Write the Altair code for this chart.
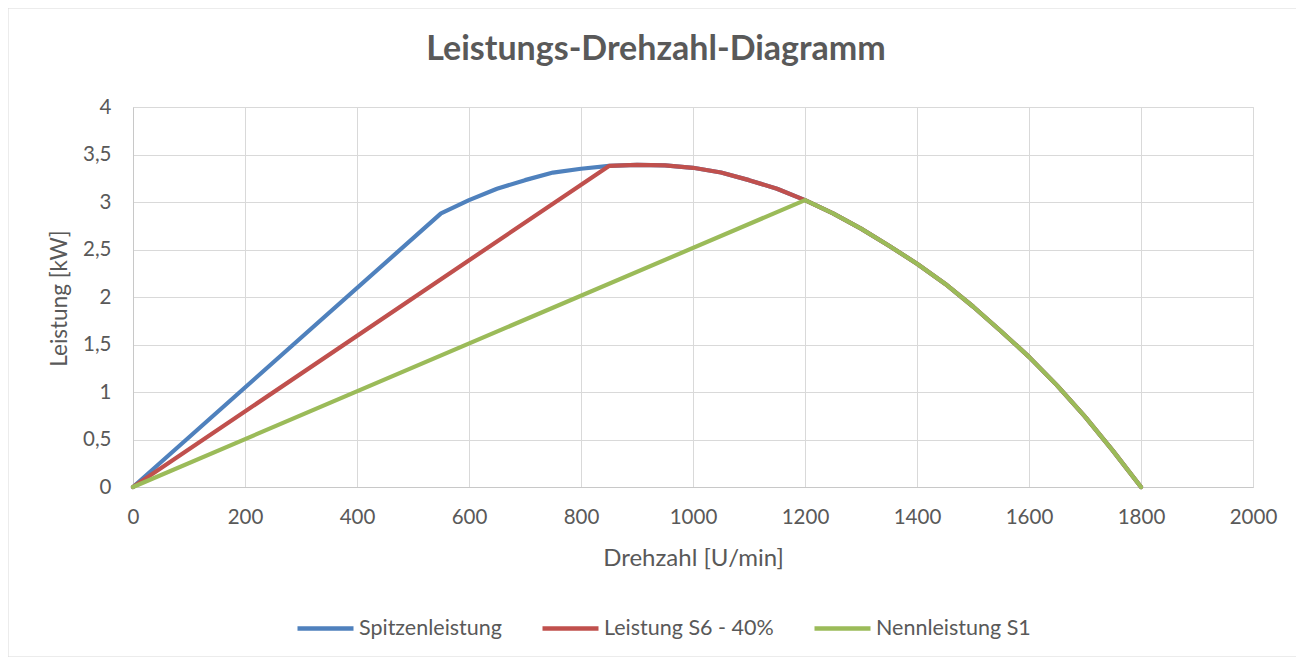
import altair as alt
import pandas as pd

# --- data ---
chart_title = "Leistungs-Drehzahl-Diagramm"
series_names = ["Spitzenleistung", "Leistung S6 - 40%", "Nennleistung S1"]
series_colors = ["#4f81bd", "#c0504d", "#9bbb59"]

rpm_spitzen = [0, 550, 600, 650, 700, 750, 800, 850, 900, 950, 1000, 1050, 1100, 1150,
               1200, 1250, 1300, 1350, 1400, 1450, 1500, 1550, 1600, 1650, 1700, 1750, 1800]
kw_spitzen = [0, 2.88, 3.02, 3.14, 3.23, 3.31, 3.35, 3.38, 3.39, 3.385, 3.36, 3.31, 3.23, 3.14,
              3.02, 2.88, 2.72, 2.54, 2.35, 2.14, 1.90, 1.64, 1.37, 1.07, 0.74, 0.38, 0]

rpm_s6 = [0, 850, 900, 950, 1000, 1050, 1100, 1150,
          1200, 1250, 1300, 1350, 1400, 1450, 1500, 1550, 1600, 1650, 1700, 1750, 1800]
kw_s6 = [0, 3.38, 3.39, 3.385, 3.36, 3.31, 3.23, 3.14,
         3.02, 2.88, 2.72, 2.54, 2.35, 2.14, 1.90, 1.64, 1.37, 1.07, 0.74, 0.38, 0]

rpm_s1 = [0, 1200, 1250, 1300, 1350, 1400, 1450, 1500, 1550, 1600, 1650, 1700, 1750, 1800]
kw_s1 = [0, 3.02, 2.88, 2.72, 2.54, 2.35, 2.14, 1.90, 1.64, 1.37, 1.07, 0.74, 0.38, 0]

x_ticks = [0, 200, 400, 600, 800, 1000, 1200, 1400, 1600, 1800, 2000]
y_ticks = [0, 0.5, 1, 1.5, 2, 2.5, 3, 3.5, 4]

frames = []
for name, xs, ys in zip(series_names, [rpm_spitzen, rpm_s6, rpm_s1], [kw_spitzen, kw_s6, kw_s1]):
    frames.append(pd.DataFrame({"Drehzahl": xs, "Leistung": ys, "Serie": name}))

FONT = "Lato"
TXT = "#595959"
W, H = 1120, 380

color = alt.Color(
    "Serie:N",
    scale=alt.Scale(domain=series_names, range=series_colors),
    legend=alt.Legend(
        title=None, orient="none", direction="horizontal",
        legendX=162, legendY=491,
        symbolType="stroke", symbolSize=3136, symbolStrokeWidth=4.5,
        labelFontSize=21.5, labelFont=FONT, labelColor=TXT, labelOffset=3,
        columnPadding=31, labelLimit=400,
    ),
)

x_enc = alt.X(
    "Drehzahl:Q",
    scale=alt.Scale(domain=[0, 2000], nice=False),
    axis=alt.Axis(
        values=x_ticks, format="d", title="Drehzahl [U/min]", labelFlush=False,
        grid=True, gridColor="#d9d9d9", ticks=False,
        domainColor="#c8c8c8", labelFont=FONT, labelFontSize=20.5, labelColor=TXT,
        labelPadding=20, titleFont=FONT, titleFontSize=24, titleFontWeight="normal",
        titleColor=TXT, titleY=71, titleBaseline="middle",
    ),
)
y_enc = alt.Y(
    "Leistung:Q",
    scale=alt.Scale(domain=[0, 4], nice=False),
    axis=alt.Axis(
        values=y_ticks, title="Leistung [kW]", labelFlush=False,
        labelExpr="replace(toString(datum.value), '.', ',')",
        grid=True, gridColor="#d9d9d9", ticks=False,
        domainColor="#c8c8c8", labelFont=FONT, labelFontSize=20.5, labelColor=TXT,
        labelPadding=22, titleFont=FONT, titleFontSize=22.5, titleFontWeight="normal",
        titleColor=TXT, titleX=-74, titleY=191, titleAngle=-90,
        titleAlign="center", titleBaseline="middle",
    ),
)

border = alt.Chart(pd.DataFrame({"a": [0]})).mark_rect(
    fill=None, stroke="#d9d9d9", strokeWidth=1
).encode(
    x=alt.value(-125), x2=alt.value(W + 45), y=alt.value(-99), y2=alt.value(H + 170)
)

title_mark = alt.Chart(pd.DataFrame({"t": [chart_title]})).mark_text(
    font=FONT, fontSize=34, fontWeight="bold", color=TXT,
    align="center", baseline="alphabetic",
).encode(x=alt.value(523), y=alt.value(-47), text="t:N")

lines = [
    alt.Chart(df).mark_line(strokeWidth=4.2, strokeCap="round", strokeJoin="round").encode(
        x=x_enc, y=y_enc, color=color, order=alt.Order("Drehzahl:Q")
    )
    for df in frames
]

chart = alt.layer(border, title_mark, *lines).properties(
    width=W, height=H,
    autosize=alt.AutoSizeParams(type="none"),
    padding={"left": 125, "top": 99, "right": 43, "bottom": 170},
).configure_view(stroke=None).configure(background="white")

chart.save("out.html", embed_options={"renderer": "svg", "actions": False})
